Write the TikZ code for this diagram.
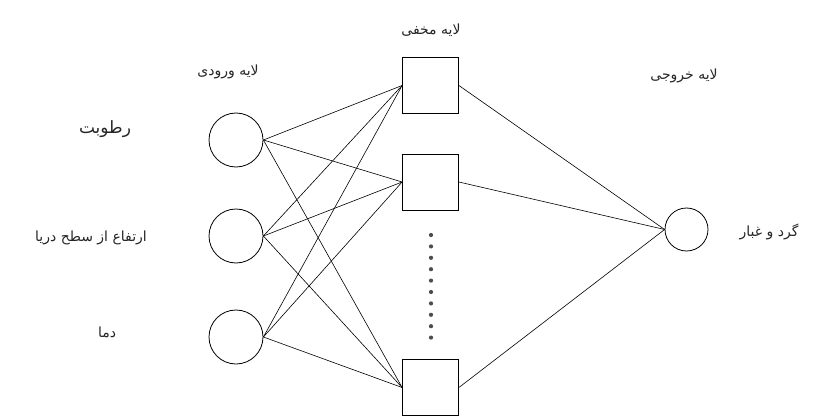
\documentclass[tikz,border=0pt]{standalone}
\usepackage{fontspec}
\newfontfamily\arabicfont[Script=Arabic]{DejaVu Sans}
\TeXXeTstate=1
\begin{document}
\begin{tikzpicture}[x=1pt,y=-1pt,
  neuron/.style={draw,circle,inner sep=0pt,line width=0.8pt},
  hidbox/.style={draw,rectangle,inner sep=0pt,minimum size=56pt,line width=0.8pt},
  link/.style={line width=0.6pt},
  lbl/.style={font=\arabicfont\fontsize{14}{16}\selectfont,text=black!85},
  biglbl/.style={font=\arabicfont\fontsize{17}{19}\selectfont,text=black!85}]
\useasboundingbox (0,0) rectangle (829,417);
% input layer
\node[neuron,minimum size=54pt] (i1) at (236,140) {};
\node[neuron,minimum size=54pt] (i2) at (236,236) {};
\node[neuron,minimum size=54pt] (i3) at (236,337) {};
% hidden layer
\node[hidbox] (h1) at (430.5,85.5) {};
\node[hidbox] (h2) at (430.5,182) {};
\node[hidbox] (h3) at (430.5,387.5) {};
% output layer
\node[neuron,minimum size=43pt] (o) at (686.5,229.5) {};
% dots
\foreach \k in {0,...,9} \fill[black!70] (431,{235+11.4*\k}) circle (2.1pt);
% links
\foreach \i in {i1,i2,i3} \foreach \h in {h1,h2,h3} \draw[link] (\i.east) -- (\h.west);
\foreach \h in {h1,h2,h3} \draw[link] (\h.east) -- (o.west);
% labels
\node[lbl] (tin) at (228,72) {\beginR لایه ورودی\endR};
\node[lbl] (thid) at (431,30) {\beginR لایه مخفی\endR};
\node[lbl] (tout) at (684,76) {\beginR لایه خروجی\endR};
\node[biglbl] (x1) at (105,129) {\beginR رطوبت\endR};
\node[lbl] (x2) at (91,238) {\beginR ارتفاع از سطح دریا\endR};
\node[lbl] (x3) at (107,332) {\beginR دما\endR};
\node[lbl] (y) at (769,232) {\beginR گرد و غبار\endR};
\end{tikzpicture}
\end{document}
